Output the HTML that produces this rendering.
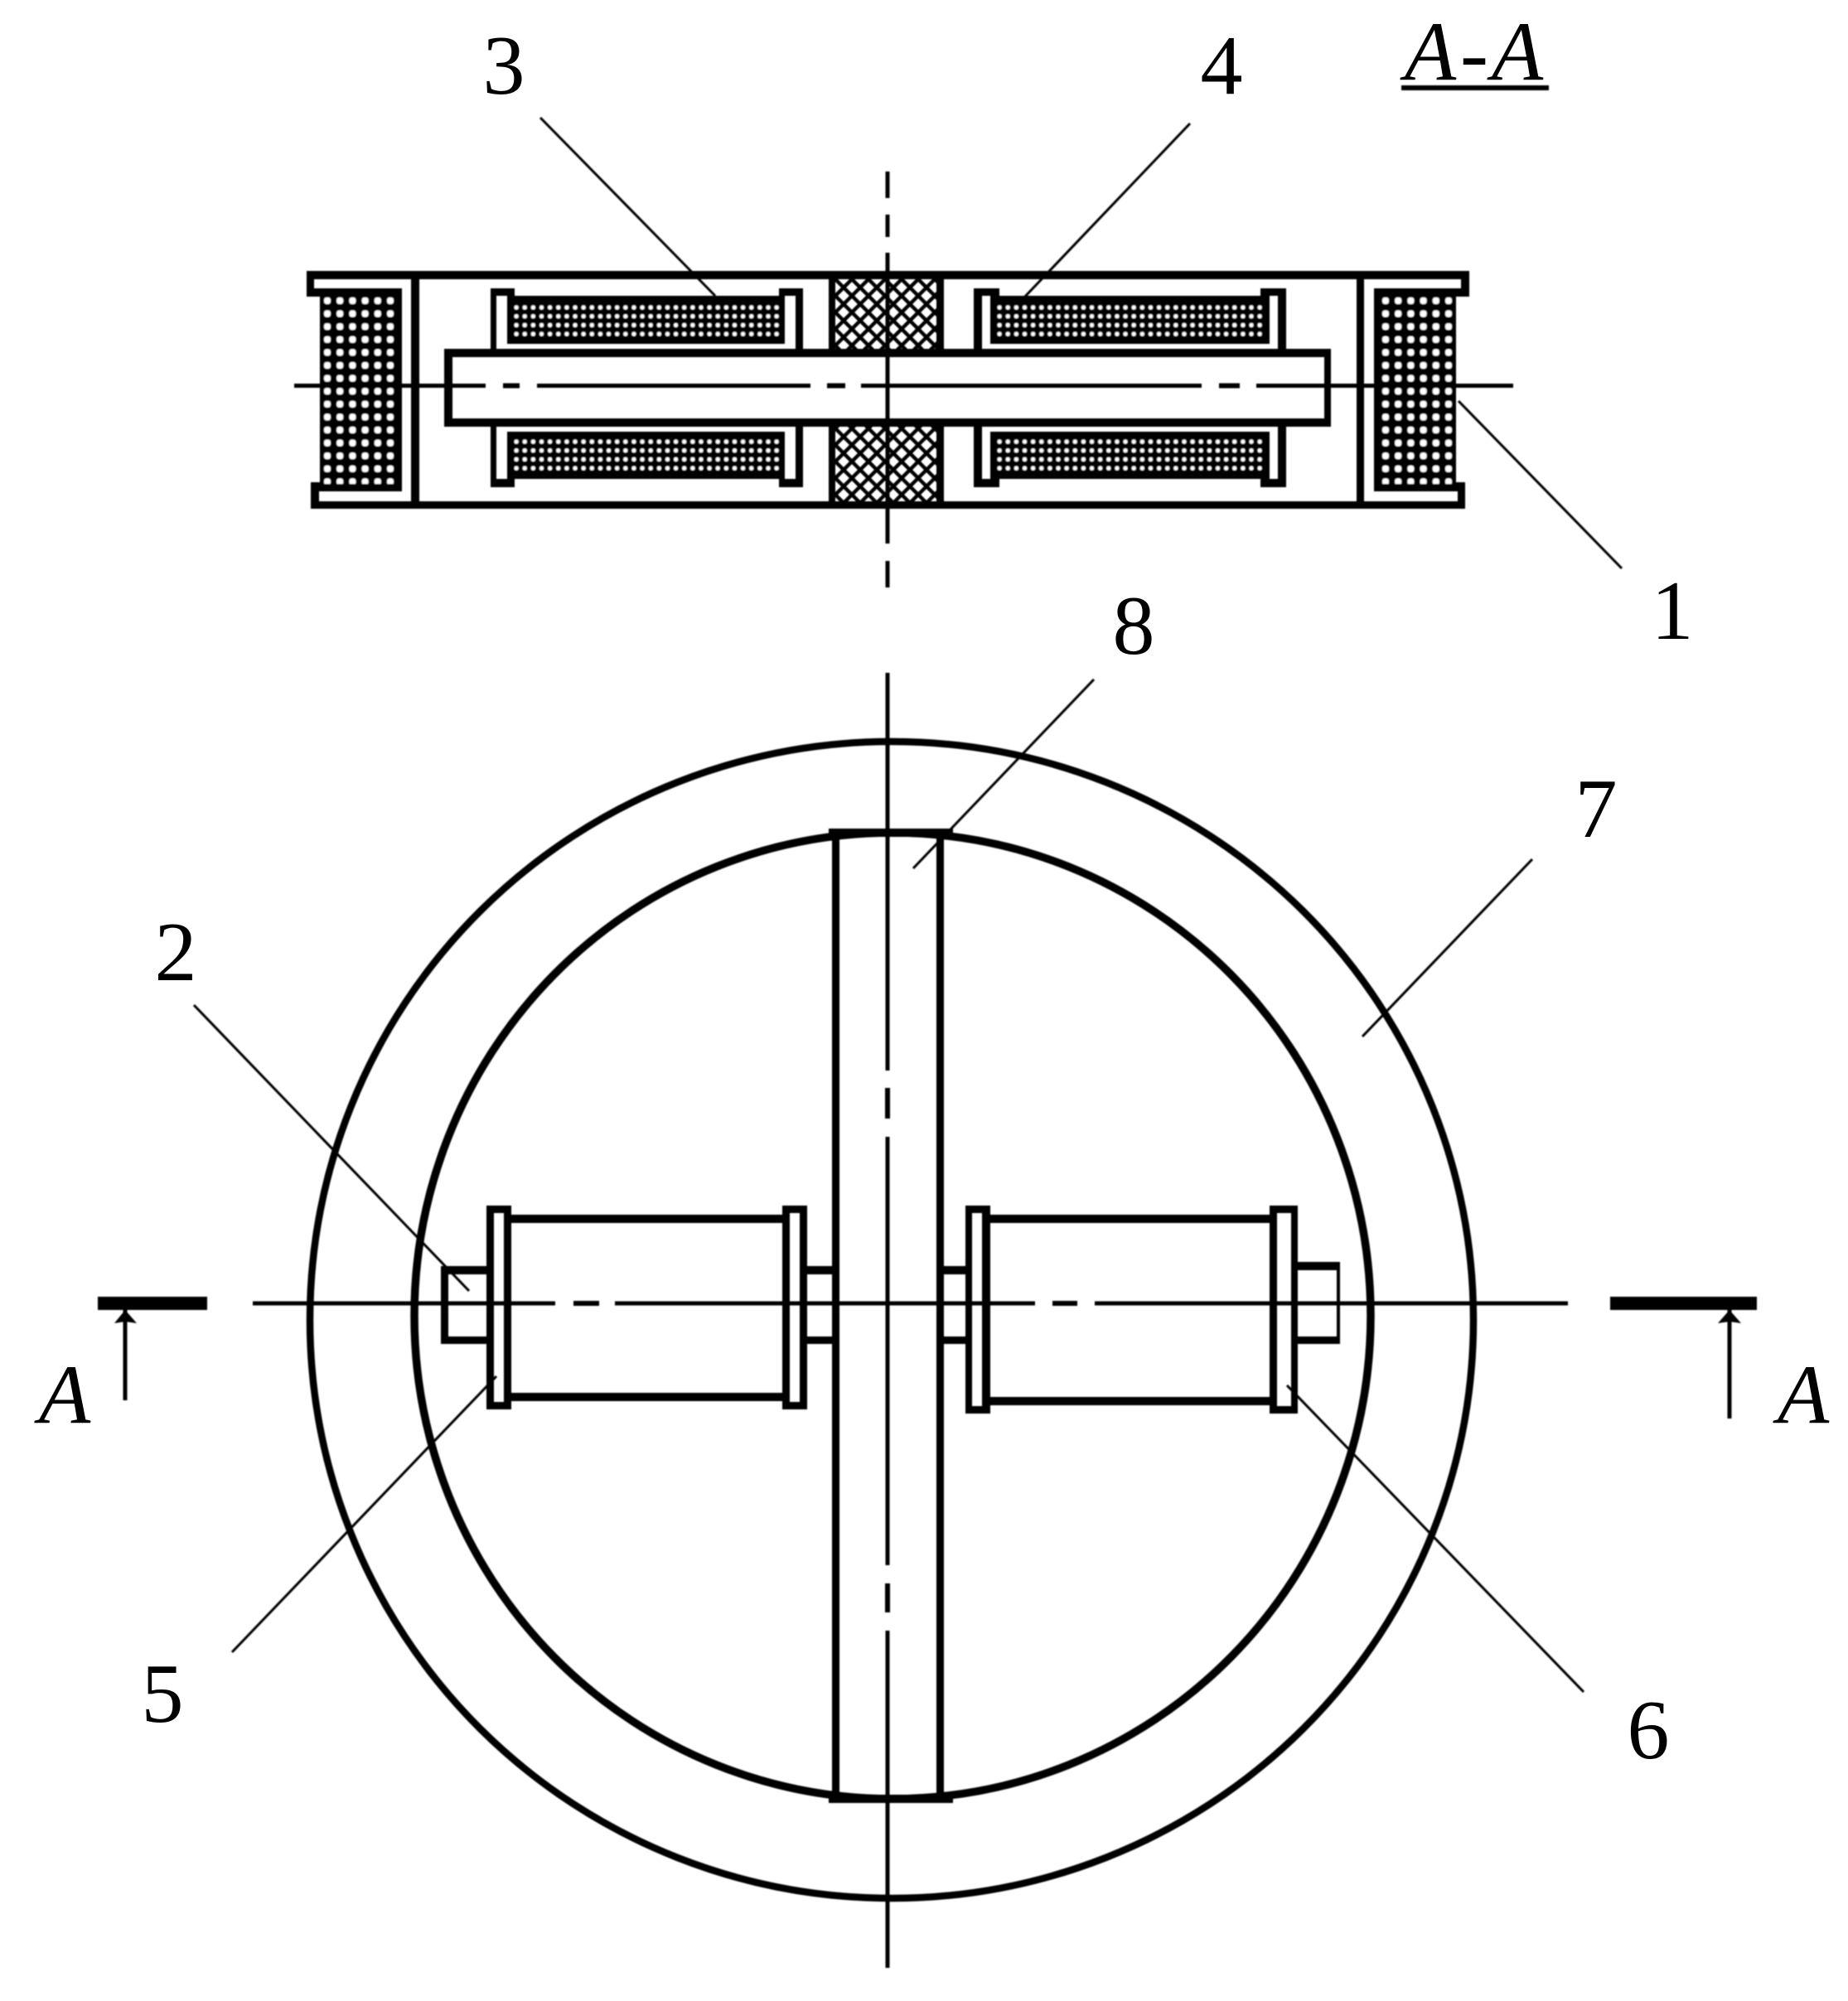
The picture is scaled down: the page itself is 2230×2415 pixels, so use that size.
<!DOCTYPE html>
<html>
<head>
<meta charset="utf-8">
<style>
html,body{margin:0;padding:0;background:#fff;}
svg{display:block;}
text{font-family:"Liberation Serif",serif;font-size:102px;fill:#000;text-anchor:middle;}
.i{font-style:italic;}
</style>
</head>
<body>
<svg width="2230" height="2415" viewBox="0 0 2230 2415" xmlns="http://www.w3.org/2000/svg">
<defs>
<pattern id="bigL" patternUnits="userSpaceOnUse" x="387.4" y="355.2" width="15.2" height="15.6"><rect x="3.6" y="3.8" width="8" height="8" rx="3" fill="#fff"/></pattern>
<pattern id="bigR" patternUnits="userSpaceOnUse" x="1664.4" y="355.2" width="15.2" height="15.6"><rect x="3.6" y="3.8" width="8" height="8" rx="3" fill="#fff"/></pattern>
<pattern id="sT1" patternUnits="userSpaceOnUse" x="618" y="365.8" width="10.13" height="10.67"><rect x="2.6" y="2.8" width="5" height="5" rx="2" fill="#fff"/></pattern>
<pattern id="sB1" patternUnits="userSpaceOnUse" x="618" y="527.8" width="10.13" height="10.67"><rect x="2.6" y="2.8" width="5" height="5" rx="2" fill="#fff"/></pattern>
<pattern id="sT2" patternUnits="userSpaceOnUse" x="1201" y="365.8" width="10.13" height="10.67"><rect x="2.6" y="2.8" width="5" height="5" rx="2" fill="#fff"/></pattern>
<pattern id="sB2" patternUnits="userSpaceOnUse" x="1201" y="527.8" width="10.13" height="10.67"><rect x="2.6" y="2.8" width="5" height="5" rx="2" fill="#fff"/></pattern>
<pattern id="hatch" patternUnits="userSpaceOnUse" x="1008" y="337" width="20" height="20">
<path d="M0 0L20 20M20 0L0 20" stroke="#000" stroke-width="4.4" fill="none"/>
</pattern>
<filter id="soft" x="0" y="0" width="100%" height="100%" filterUnits="userSpaceOnUse"><feGaussianBlur stdDeviation="0.7"/></filter>
</defs>
<rect width="2230" height="2415" fill="#fff"/>
<g filter="url(#soft)">
<!-- section view frame -->
<g fill="#000">
<rect x="370" y="327" width="1403" height="10"/>
<rect x="375" y="605" width="1393" height="9"/>
<rect x="370" y="327" width="9" height="31"/>
<rect x="370" y="348" width="20" height="10"/>
<rect x="375" y="582" width="10" height="32"/>
<rect x="375" y="582" width="15" height="11"/>
<rect x="1763" y="327" width="10" height="31"/>
<rect x="1753" y="348" width="20" height="10"/>
<rect x="1759" y="582" width="9" height="32"/>
<rect x="1753" y="582" width="15" height="11"/>
<rect x="496" y="327" width="10" height="287"/>
<rect x="1637" y="327" width="9" height="287"/>
<!-- large coils -->
<rect x="386" y="348" width="99" height="245"/>
<rect x="1658" y="348" width="99" height="245"/>
</g>
<rect x="390" y="358" width="86" height="226" fill="url(#bigL)"/>
<rect x="1667" y="358" width="86" height="226" fill="url(#bigR)"/>
<!-- hatched centre -->
<rect x="1000" y="337" width="139" height="85" fill="url(#hatch)"/>
<rect x="1000" y="514" width="139" height="92" fill="url(#hatch)"/>
<g fill="#000">
<rect x="1000" y="327" width="8" height="98"/>
<rect x="1130" y="327" width="9" height="98"/>
<rect x="1000" y="510" width="8" height="104"/>
<rect x="1130" y="510" width="9" height="104"/>
<!-- shaft -->
<rect x="536" y="421" width="1070" height="10"/>
<rect x="536" y="505" width="1070" height="10"/>
<rect x="536" y="421" width="10" height="94"/>
<rect x="1598" y="421" width="8" height="94"/>
<!-- left bobbins -->
<rect x="592" y="348" width="7" height="75"/>
<rect x="592" y="348" width="29" height="9"/>
<rect x="612" y="357" width="335" height="58"/>
<rect x="940" y="348" width="29" height="9"/>
<rect x="960" y="348" width="9" height="75"/>
<rect x="592" y="513" width="7" height="75"/>
<rect x="592" y="578" width="29" height="10"/>
<rect x="612" y="521" width="335" height="55"/>
<rect x="612" y="570" width="335" height="8"/>
<rect x="940" y="578" width="29" height="10"/>
<rect x="960" y="513" width="9" height="75"/>
<!-- right bobbins -->
<rect x="1175" y="348" width="10" height="75"/>
<rect x="1175" y="348" width="31" height="9"/>
<rect x="1195" y="357" width="337" height="58"/>
<rect x="1521" y="348" width="31" height="9"/>
<rect x="1542" y="348" width="10" height="75"/>
<rect x="1175" y="513" width="10" height="75"/>
<rect x="1175" y="578" width="31" height="10"/>
<rect x="1195" y="521" width="337" height="55"/>
<rect x="1195" y="570" width="337" height="8"/>
<rect x="1521" y="578" width="31" height="10"/>
<rect x="1542" y="513" width="10" height="75"/>
</g>
<rect x="618" y="366" width="324" height="43" fill="url(#sT1)"/>
<rect x="618" y="528" width="324" height="43" fill="url(#sB1)"/>
<rect x="1201" y="366" width="324" height="43" fill="url(#sT2)"/>
<rect x="1201" y="528" width="324" height="43" fill="url(#sB2)"/>
<!-- section centrelines -->
<g fill="#000">
<rect x="355" y="463" width="231" height="5"/>
<rect x="607" y="462.500" width="20" height="6"/>
<rect x="648" y="463" width="330" height="5"/>
<rect x="998" y="462.500" width="22" height="6"/>
<rect x="1039" y="463" width="411" height="5"/>
<rect x="1471" y="462.500" width="25" height="6"/>
<rect x="1516" y="463" width="310" height="5"/>
<rect x="1068.500" y="207" width="5" height="32"/>
<rect x="1068.500" y="259" width="5" height="27"/>
<rect x="1068.500" y="305" width="5" height="351"/>
<rect x="1068.500" y="677" width="5" height="32"/>
</g>
<!-- plan view circles -->
<ellipse cx="1076" cy="1593" rx="702" ry="698" fill="none" stroke="#000" stroke-width="8.500"/>
<ellipse cx="1077" cy="1588" rx="577" ry="583" fill="none" stroke="#000" stroke-width="9.500"/>
<g fill="#000">
<!-- central column -->
<rect x="1000" y="1000" width="150" height="10"/>
<rect x="1000" y="2166" width="150" height="10"/>
<rect x="1004" y="1000" width="9" height="1176"/>
<rect x="1130" y="1000" width="9" height="1176"/>
<!-- left drum -->
<rect x="587" y="1455" width="30" height="9"/>
<rect x="587" y="1692" width="30" height="9"/>
<rect x="587" y="1455" width="9" height="246"/>
<rect x="608" y="1455" width="9" height="246"/>
<rect x="617" y="1466" width="327" height="10"/>
<rect x="617" y="1681" width="327" height="10"/>
<rect x="944" y="1455" width="30" height="9"/>
<rect x="944" y="1692" width="30" height="9"/>
<rect x="944" y="1455" width="9" height="246"/>
<rect x="965" y="1455" width="9" height="246"/>
<!-- left nuts -->
<rect x="532" y="1528" width="55" height="10"/>
<rect x="532" y="1613" width="55" height="9"/>
<rect x="532" y="1528" width="9" height="94"/>
<rect x="974" y="1528" width="30" height="10"/>
<rect x="974" y="1613" width="30" height="9"/>
<!-- right drum -->
<rect x="1165" y="1455" width="30" height="9"/>
<rect x="1165" y="1697" width="30" height="9"/>
<rect x="1165" y="1455" width="8" height="251"/>
<rect x="1185" y="1455" width="10" height="251"/>
<rect x="1195" y="1466" width="337" height="10"/>
<rect x="1195" y="1686" width="337" height="10"/>
<rect x="1532" y="1455" width="34" height="9"/>
<rect x="1532" y="1697" width="34" height="9"/>
<rect x="1532" y="1455" width="9" height="251"/>
<rect x="1558" y="1455" width="8" height="251"/>
<!-- right nuts -->
<rect x="1139" y="1528" width="26" height="10"/>
<rect x="1139" y="1613" width="26" height="9"/>
<rect x="1566" y="1523" width="51" height="10"/>
<rect x="1566" y="1613" width="51" height="9"/>
<rect x="1613" y="1523" width="4" height="99"/>
<!-- plan centrelines -->
<rect x="305" y="1570.500" width="365" height="5"/>
<rect x="692" y="1570" width="31" height="6"/>
<rect x="742" y="1570.500" width="507" height="5"/>
<rect x="1270" y="1570" width="30" height="6"/>
<rect x="1321" y="1570.500" width="571" height="5"/>
<rect x="1068.500" y="812" width="5" height="480"/>
<rect x="1068" y="1313" width="6" height="37"/>
<rect x="1068.500" y="1372" width="5" height="517"/>
<rect x="1068" y="1911" width="6" height="35"/>
<rect x="1068.500" y="1968" width="5" height="407"/>
<!-- section markers -->
<rect x="118" y="1565" width="132" height="16"/>
<rect x="148.500" y="1581" width="5" height="109"/>
<path d="M151 1581L165 1597L151 1595L138 1597Z"/>
<rect x="1943" y="1565" width="177" height="16"/>
<rect x="2084.500" y="1581" width="5" height="131"/>
<path d="M2087 1581L2101 1597L2087 1595L2073 1597Z"/>
<!-- title underline -->
<rect x="1691" y="103" width="178" height="6"/>
</g>
<!-- leaders -->
<g stroke="#000" stroke-width="3" fill="none">
<path d="M652 142L863 357"/>
<path d="M1436 149L1233 362"/>
<path d="M1957 686L1760 484"/>
<path d="M1320 820L1102 1048"/>
<path d="M1849 1037L1644 1251"/>
<path d="M234 1213L566 1558"/>
<path d="M280 1994L599 1661"/>
<path d="M1911 2042L1553 1672"/>
</g>
</g>
<!-- labels -->
<text x="608" y="113">3</text>
<text x="1474" y="113">4</text>
<text x="2018" y="771">1</text>
<text x="1368" y="789">8</text>
<text x="1926" y="1010">7</text>
<text x="212" y="1183">2</text>
<text x="196" y="2078">5</text>
<text x="1989" y="2122">6</text>
<text class="i" x="1726" y="96">A</text>
<text class="i" x="1779" y="98">-</text>
<text class="i" x="1831" y="96">A</text>
<text class="i" x="78" y="1717">A</text>
<text class="i" x="2176" y="1717">A</text>
</svg>
</body>
</html>
